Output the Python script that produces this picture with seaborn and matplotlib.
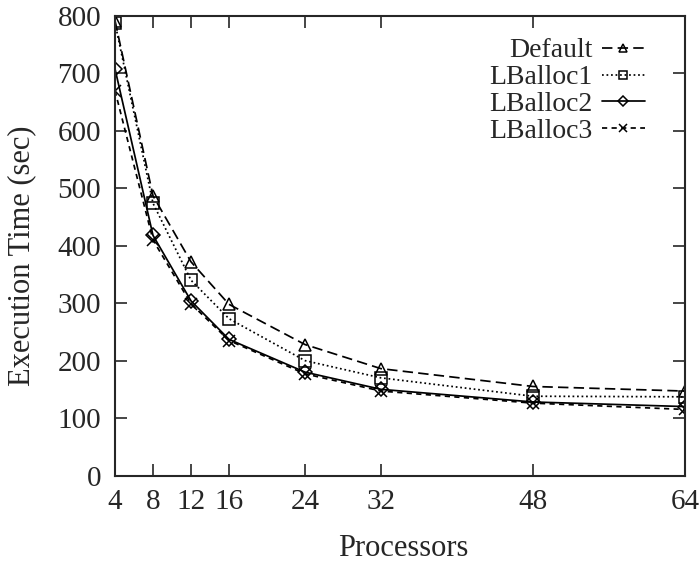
import matplotlib
matplotlib.use("Agg")
import matplotlib.pyplot as plt
import seaborn as sns
import pandas as pd

processors = [4, 8, 12, 16, 24, 32, 48, 64]
default = [792, 487, 372, 298, 228, 186, 155, 147]
lballoc1 = [788, 474, 340, 273, 200, 170, 138, 137]
lballoc2 = [708, 418, 304, 237, 180, 150, 128, 120]
lballoc3 = [670, 410, 299, 235, 177, 147, 126, 115]
series_names = ["Default", "LBalloc1", "LBalloc2", "LBalloc3"]
xticks = [4, 8, 12, 16, 24, 32, 48, 64]
yticks = [0, 100, 200, 300, 400, 500, 600, 700, 800]

series_vals = [default, lballoc1, lballoc2, lballoc3]

sns.set_style("ticks")
plt.rcParams["font.family"] = ["Liberation Serif", "DejaVu Serif"]
plt.rcParams["font.size"] = 20

W, H = 699, 562
fig = plt.figure(figsize=(W / 100, H / 100), dpi=100)
ax_l, ax_r, ax_t, ax_b = 115, 685, 16, 475.5
ax = fig.add_axes([ax_l / W, 1 - ax_b / H, (ax_r - ax_l) / W, (ax_b - ax_t) / H])

markers = {"Default": "^", "LBalloc1": "s", "LBalloc2": "D", "LBalloc3": "x"}
msizes = {"Default": 8, "LBalloc1": 8, "LBalloc2": 7, "LBalloc3": 8}
dashes = {"Default": (6, 3), "LBalloc1": (1, 1.6), "LBalloc2": None, "LBalloc3": (3, 2.5)}

for name, vals in zip(series_names, series_vals):
    d = pd.DataFrame({"Processors": processors, "Time": vals})
    kw = {}
    if dashes[name] is None:
        kw["linestyle"] = "-"
    else:
        kw["dashes"] = dashes[name]
    sns.lineplot(data=d, x="Processors", y="Time", ax=ax, color="black",
                 marker=markers[name], markersize=msizes[name],
                 markerfacecolor="none", markeredgecolor="black",
                 markeredgewidth=1.1, linewidth=1.25, label=name, **kw)

handles, labels = ax.get_legend_handles_labels()
leg = ax.legend(handles, labels, loc="upper right", frameon=False, markerfirst=False,
                handlelength=1.55, handletextpad=0.35, labelspacing=0.05,
                borderaxespad=0, borderpad=0, fontsize=20, markerscale=0.75,
                bbox_to_anchor=((645 - ax_l) / (ax_r - ax_l), (ax_b - 38) / (ax_b - ax_t)))

ax.set_xlim(4, 64)
ax.set_ylim(0, 800)
ax.set_xticks(xticks)
ax.set_xticklabels([str(t) for t in xticks])
ax.set_yticks(yticks)
ax.tick_params(direction="in", top=True, right=True, length=8.5, width=1.2,
               labelsize=21, pad=10)
for s in ax.spines.values():
    s.set_linewidth(1.5)
    s.set_visible(True)
ax.set_xlabel("Processors", fontsize=22)
ax.set_ylabel("Execution Time (sec)", fontsize=22)
ax.xaxis.label.set_va("center")
ax.yaxis.label.set_va("center")
ax.xaxis.set_label_coords((403 - ax_l) / (ax_r - ax_l), (ax_b - 548) / (ax_b - ax_t))
ax.yaxis.set_label_coords((22 - ax_l) / (ax_r - ax_l), (ax_b - 256) / (ax_b - ax_t))

fig.savefig("out.png", dpi=100)
